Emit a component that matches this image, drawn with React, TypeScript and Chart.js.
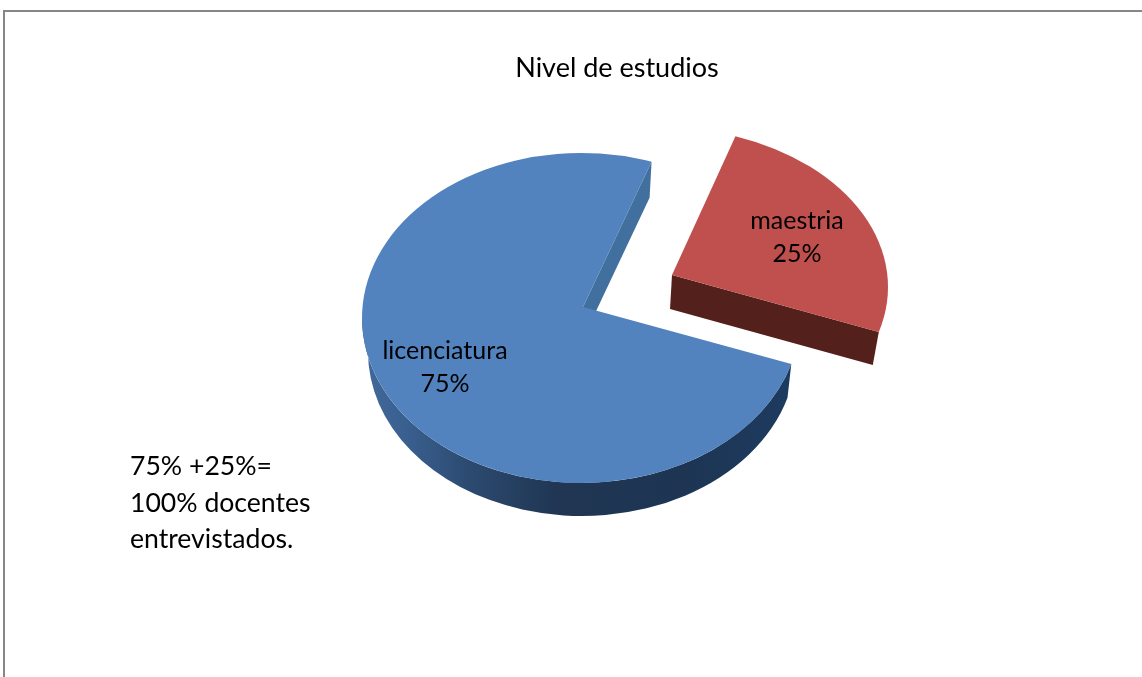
import React, { useEffect, useRef } from "react";
import { Chart, registerables } from "chart.js";

Chart.register(...registerables);

const categories = ["licenciatura", "maestria"];
const percentages = [75, 25];
const chartTitle = "Nivel de estudios";
const noteLines = ["75% +25%=", "100% docentes", "entrevistados."];
const sliceColors = ["#5283be", "#c0504d"];

const FONT = "Lato, Carlito, 'Open Sans', sans-serif";
const DEG = Math.PI / 180;

const piePlugin = {
  id: "pie3d",
  beforeDraw(chart: any) {
    const { ctx, width, height } = chart;
    ctx.save();
    ctx.fillStyle = "#ffffff";
    ctx.fillRect(0, 0, width, height);
    ctx.fillStyle = "#868686";
    ctx.fillRect(3, 10, width - 3, 2);
    ctx.fillRect(3, 10, 2, height - 10);
    ctx.restore();
  },
  beforeDatasetDraw() {
    return false;
  },
  afterDatasetsDraw(chart: any) {
    const { ctx } = chart;
    const arcs = chart.getDatasetMeta(0).data;
    const blue = arcs[0];
    const red = arcs[1];
    ctx.save();

    // red slice: inner wall, then top
    {
      const cx = 659, cy = 287, a = 229, b = 160;
      const s = red.startAngle + 2 * DEG, e = red.endAngle - 1.2 * DEG;
      const ax = 672, ay = 275;
      const ex = cx + a * Math.cos(e), ey = cy + b * Math.sin(e);
      ctx.fillStyle = "#54201c";
      ctx.beginPath();
      ctx.moveTo(ax, ay);
      ctx.lineTo(ex, ey);
      ctx.lineTo(ex - 6, ey + 33);
      ctx.lineTo(ax - 2, ay + 34);
      ctx.closePath();
      ctx.fill();
      ctx.fillStyle = red.options.backgroundColor;
      ctx.beginPath();
      ctx.moveTo(ax, ay);
      ctx.ellipse(cx, cy, a, b, 0, s, e);
      ctx.closePath();
      ctx.fill();
    }

    // blue slice
    {
      const cx = 581, cy = 318, a = 219, b = 165;
      const pad = 1.3 * DEG;
      const s = blue.startAngle - pad, e = blue.endAngle + pad;
      const ax = 583, ay = 307;
      const bcx = 582, bcy = 352, ba = 214, bb = 164;

      // inner wall behind
      const tx = cx + a * Math.cos(e), ty = cy + b * Math.sin(e);
      ctx.fillStyle = "#41709f";
      ctx.beginPath();
      ctx.moveTo(tx, ty);
      ctx.lineTo(tx - 2, ty + 36);
      ctx.lineTo(581, 343);
      ctx.lineTo(ax, ay);
      ctx.closePath();
      ctx.fill();

      // outer rim wall
      const g = ctx.createLinearGradient(362, 0, 791, 0);
      g.addColorStop(0, "#41699b");
      g.addColorStop(0.1, "#3a6090");
      g.addColorStop(0.25, "#2c4a70");
      g.addColorStop(0.45, "#203653");
      g.addColorStop(0.75, "#1d3553");
      g.addColorStop(1, "#1d3b60");
      ctx.fillStyle = g;
      ctx.beginPath();
      ctx.ellipse(bcx, bcy, ba, bb, 0, s, Math.PI);
      ctx.ellipse(cx, cy, a, b, 0, Math.PI, s, true);
      ctx.closePath();
      ctx.fill();

      // top face
      ctx.fillStyle = blue.options.backgroundColor;
      ctx.beginPath();
      ctx.moveTo(ax, ay);
      ctx.ellipse(cx, cy, a, b, 0, s, e);
      ctx.closePath();
      ctx.fill();
    }

    // labels
    ctx.fillStyle = "#000000";
    ctx.font = `25px ${FONT}`;
    ctx.textAlign = "center";
    ctx.textBaseline = "middle";
    ctx.fillText(categories[0], 445, 351);
    ctx.fillText(`${percentages[0]}%`, 445, 384);
    ctx.fillText(categories[1], 797, 221);
    ctx.fillText(`${percentages[1]}%`, 797, 254);

    // note
    ctx.font = `26.6px ${FONT}`;
    ctx.textAlign = "left";
    noteLines.forEach((line, i) => ctx.fillText(line, 130, 466.5 + i * 36.5));
    ctx.restore();
  },
};

export default function App() {
  const ref = useRef<HTMLCanvasElement>(null);
  useEffect(() => {
    const chart = new Chart(ref.current!, {
      type: "pie",
      data: {
        labels: categories,
        datasets: [{ data: percentages, backgroundColor: sliceColors, borderWidth: 0 }],
      },
      options: {
        responsive: false,
        animation: false,
        rotation: 107.5,
        layout: { padding: { left: 92, top: 0, right: 0, bottom: 0 } },
        plugins: {
          legend: { display: false },
          tooltip: { enabled: false },
          title: {
            display: true,
            text: chartTitle,
            color: "#000000",
            font: { family: FONT, size: 27, weight: "normal" },
            padding: { top: 52, bottom: 10 },
          },
        },
      },
      plugins: [piePlugin],
    } as any);
    return () => chart.destroy();
  }, []);
  return (
    <canvas
      ref={ref}
      width={1142}
      height={677}
      style={{ position: "fixed", left: 0, top: 0, display: "block" }}
    />
  );
}
